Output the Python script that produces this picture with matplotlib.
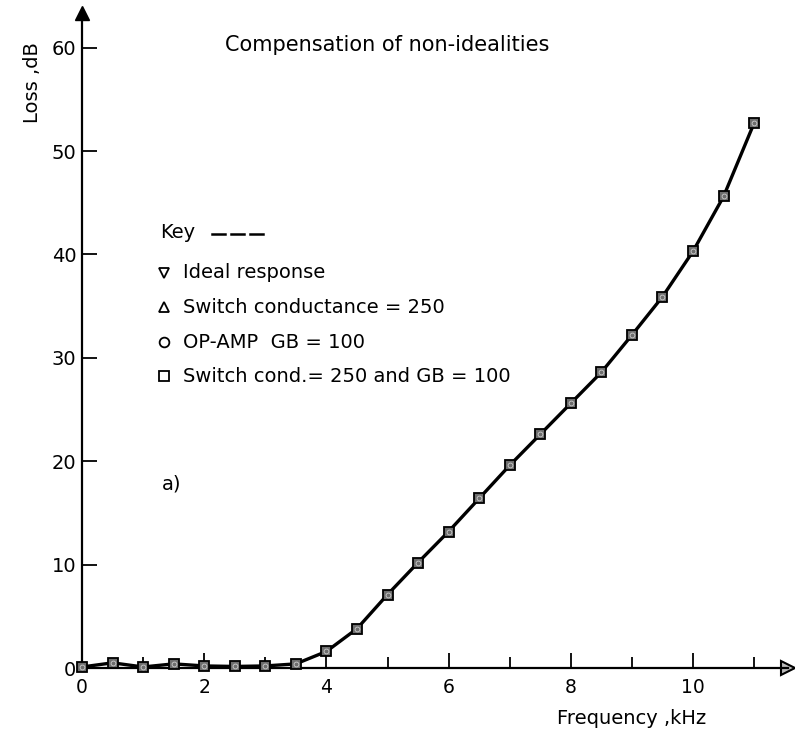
import matplotlib
matplotlib.use("Agg")
import matplotlib.pyplot as plt

# ---- data ----
freq_khz = [0, 0.5, 1, 1.5, 2, 2.5, 3, 3.5, 4, 4.5, 5, 5.5, 6, 6.5, 7, 7.5,
            8, 8.5, 9, 9.5, 10, 10.5, 11]
loss_db = [0.1, 0.5, 0.1, 0.4, 0.2, 0.15, 0.2, 0.4, 1.6, 3.8, 7.1, 10.2,
           13.2, 16.4, 19.6, 22.6, 25.6, 28.6, 32.2, 35.9, 40.3, 45.6, 52.7]
x_major = [0, 2, 4, 6, 8, 10]
x_minor = [1, 3, 5, 7, 9, 11]
y_major = [0, 10, 20, 30, 40, 50, 60]
key_labels = ["Ideal response", "Switch conductance = 250",
              "OP-AMP  GB = 100", "Switch cond.= 250 and GB = 100"]
key_markers = ["v", "^", "o", "s"]

W, H = 795, 736
fig = plt.figure(figsize=(W / 100, H / 100), dpi=100)
FONT = "DejaVu Sans"
plt.rcParams["font.family"] = FONT


def fx(px):
    return px / W


def fy(py):
    return 1 - py / H


x0, y0 = 82, 668
xmax, ymax = 11.55, 63.3
ppx, ppy = 61.1, 10.34  # pixels per kHz, pixels per dB
ax = fig.add_axes([fx(x0), fy(y0), xmax * ppx / W, ymax * ppy / H])

for s in ("top", "right"):
    ax.spines[s].set_visible(False)
for s in ("left", "bottom"):
    ax.spines[s].set_linewidth(1.6)

# axis arrows
ax.plot([1], [0], marker=">", color="black", markersize=10, transform=ax.transAxes,
        clip_on=False, markerfacecolor="#bbbbbb", markeredgewidth=1.5)
ax.plot([0], [1], marker="^", color="black", markersize=10, transform=ax.transAxes,
        clip_on=False)

# curve and markers
ax.plot(freq_khz, loss_db, color="black", linewidth=2.4, zorder=3, clip_on=False)
ax.plot(freq_khz, loss_db, linestyle="none", marker="s", markersize=7.5,
        markerfacecolor="#6e6e6e", markeredgecolor="black", markeredgewidth=1.3,
        zorder=4, clip_on=False)
ax.plot(freq_khz, loss_db, linestyle="none", marker="o", markersize=3.5,
        markerfacecolor="none", markeredgecolor="#cfcfcf", markeredgewidth=0.6,
        zorder=5, clip_on=False)

ax.set_xlim(0, xmax)
ax.set_ylim(0, ymax)
ax.set_xticks(x_major)
ax.set_xticks(x_minor, minor=True)
ax.set_yticks(y_major)
ax.tick_params(axis="x", which="major", direction="in", length=11, width=1.3,
               labelsize=13.5, pad=7)
ax.tick_params(axis="x", which="minor", direction="in", length=8, width=1.3)
ax.tick_params(axis="y", which="major", direction="in", length=11, width=1.3,
               labelsize=14, pad=4)

# texts
fig.text(fx(387), fy(45), "Compensation of non-idealities", ha="center",
         va="center", fontsize=15)
fig.text(fx(632), fy(718), "Frequency ,kHz", ha="center", va="center",
         fontsize=14)
fig.text(fx(33), fy(83), "Loss ,dB", ha="center", va="center", fontsize=14,
         rotation=90)
fig.text(fx(162), fy(484), "a)", ha="left", va="center", fontsize=14)

# key
fig.text(fx(160), fy(233), "Key", ha="left", va="center", fontsize=14)
for xs in (212, 231, 250):
    fig.add_artist(plt.Line2D([fx(xs), fx(xs + 13)], [fy(234), fy(234)],
                              color="black", linewidth=1.8))
key_y = [273, 307, 342, 376]
for lab, mk, yy in zip(key_labels, key_markers, key_y):
    fig.add_artist(plt.Line2D([fx(164)], [fy(yy)], marker=mk, markersize=7,
                              markerfacecolor="none", markeredgecolor="black",
                              markeredgewidth=1.3, linestyle="none"))
    fig.text(fx(183), fy(yy), lab, ha="left", va="center", fontsize=14)

fig.savefig("out.png", dpi=100)
